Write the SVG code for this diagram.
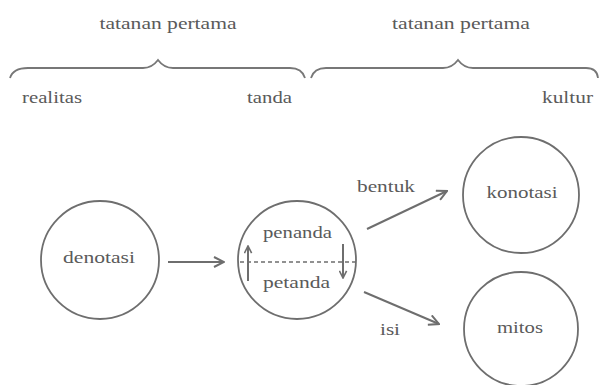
<svg xmlns="http://www.w3.org/2000/svg" width="601" height="385" viewBox="0 0 601 385">
<defs>
<style>
text{font-family:"Liberation Serif","DejaVu Serif",serif;font-size:17px;fill:#5a5a5a;text-anchor:middle}
.node{fill:none;stroke:#6e6e6e;stroke-width:1.8}
.conn{fill:none;stroke:#6e6e6e;stroke-width:2}
.brace{fill:none;stroke:#777;stroke-width:1.8}
.dash{fill:none;stroke:#6e6e6e;stroke-width:1.4;stroke-dasharray:4 3}
</style>
<marker id="arr" viewBox="0 0 12 12" refX="11" refY="6" markerWidth="12" markerHeight="12" markerUnits="userSpaceOnUse" orient="auto">
<path d="M1,1 L11,6 L1,11" fill="none" stroke="#6e6e6e" stroke-width="2"/>
</marker>
<marker id="arrs" viewBox="0 0 10 10" refX="9" refY="5" markerWidth="9" markerHeight="9" markerUnits="userSpaceOnUse" orient="auto">
<path d="M1,1 L9,5 L1,9" fill="none" stroke="#6e6e6e" stroke-width="1.8"/>
</marker>
</defs>
<g id="top-labels">
<text x="168" y="29" textLength="137" lengthAdjust="spacingAndGlyphs">tatanan pertama</text>
<text x="461" y="29" textLength="138" lengthAdjust="spacingAndGlyphs">tatanan pertama</text>
<path class="brace" d="M10,78 Q13,68 28,68 L143,68 Q152,68 158,60 Q164,68 173,68 L290,68 Q302,68 305,78"/>
<path class="brace" d="M311,78 Q314,68 326,68 L443,68 Q452,68 458,60 Q464,68 473,68 L586,68 Q597,68 598,78"/>
<text x="52" y="103" textLength="60" lengthAdjust="spacingAndGlyphs">realitas</text>
<text x="269.5" y="103" textLength="45" lengthAdjust="spacingAndGlyphs">tanda</text>
<text x="567.5" y="103" textLength="51" lengthAdjust="spacingAndGlyphs">kultur</text>
</g>
<g id="denotasi">
<circle class="node" cx="100" cy="260" r="59"/>
<text x="99" y="263" textLength="72" lengthAdjust="spacingAndGlyphs">denotasi</text>
</g>
<g id="tanda">
<circle class="node" cx="297" cy="260" r="59"/>
<text x="297.5" y="238" textLength="69" lengthAdjust="spacingAndGlyphs">penanda</text>
<text x="296.5" y="288" textLength="67" lengthAdjust="spacingAndGlyphs">petanda</text>
<line class="dash" x1="240" y1="262" x2="356" y2="262"/>
<line class="conn" x1="248" y1="281" x2="248" y2="246" marker-end="url(#arrs)"/>
<line class="conn" x1="343" y1="244" x2="343" y2="278" marker-end="url(#arrs)"/>
</g>
<g id="konotasi">
<circle class="node" cx="521" cy="195" r="58"/>
<text x="522" y="198" textLength="71" lengthAdjust="spacingAndGlyphs">konotasi</text>
</g>
<g id="mitos">
<circle class="node" cx="521" cy="329" r="57"/>
<text x="520" y="333" textLength="46" lengthAdjust="spacingAndGlyphs">mitos</text>
</g>
<g id="connectors">
<line class="conn" x1="168" y1="262" x2="224" y2="262" marker-end="url(#arr)"/>
<line class="conn" x1="367" y1="229" x2="447" y2="191" marker-end="url(#arr)"/>
<line class="conn" x1="364" y1="292" x2="439" y2="324" marker-end="url(#arr)"/>
<text x="386" y="192" textLength="58" lengthAdjust="spacingAndGlyphs">bentuk</text>
<text x="390" y="335" textLength="20" lengthAdjust="spacingAndGlyphs">isi</text>
</g>
</svg>
